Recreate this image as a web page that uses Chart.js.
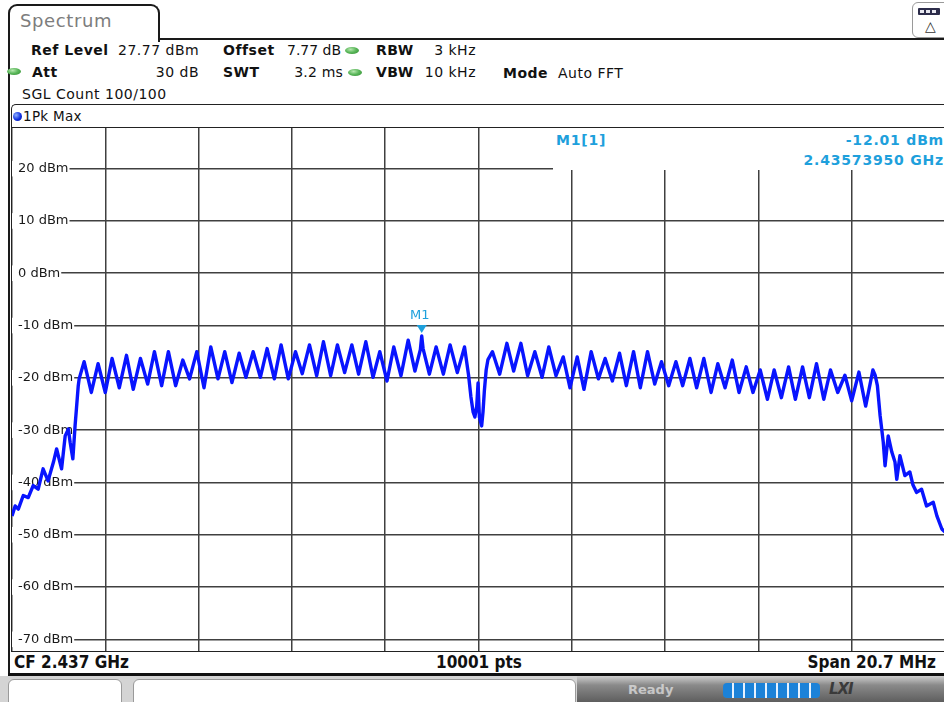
<!DOCTYPE html>
<html><head><meta charset="utf-8">
<script src="https://cdn.jsdelivr.net/npm/chart.js@4/dist/chart.umd.min.js"></script>
<style>
html,body{margin:0;padding:0;width:944px;height:702px;overflow:hidden;background:#fff;font-family:"DejaVu Sans",sans-serif;color:#111;}
.a{position:absolute;white-space:nowrap;}
.t{font-size:14px;letter-spacing:0.5px;line-height:16px;}
.b{font-weight:bold;}
.dot{position:absolute;width:14px;height:7px;border-radius:50%;background:radial-gradient(ellipse at 40% 35%,#b8e8b0 0%,#5cb85c 45%,#2e8b2e 100%);}
.blue{color:#1ea0dc;font-weight:bold;font-size:14px;letter-spacing:0.8px;line-height:16px;}
#plot{position:absolute;left:12px;top:128px;width:933px;height:523px;}
.sb{font-family:"DejaVu Sans Condensed","DejaVu Sans",sans-serif;font-weight:bold;font-size:17px;line-height:18px;}
</style>
</head><body>
<!-- tab -->
<div class="a" style="left:8px;top:4px;width:148px;height:36px;border:2px solid #1a1a1a;border-bottom:none;border-radius:9px 9px 0 0;"></div>
<div class="a" style="left:20px;top:10px;font-size:18px;color:#7d7d7d;letter-spacing:0.6px;">Spectrum</div>
<div class="a" style="left:158px;top:38px;width:786px;height:2px;background:#1a1a1a;"></div>
<div class="a" style="left:8px;top:38px;width:2px;height:638px;background:#1a1a1a;"></div>
<!-- right icon -->
<div class="a" style="left:912px;top:2px;width:40px;height:34px;border:1px solid #9a9a9a;border-radius:6px;background:#fff;"></div>
<div class="a" style="left:918px;top:8px;width:22px;height:7px;background:#2c2c4a;border-radius:1px;"></div>
<div class="a" style="left:920px;top:10px;width:4px;height:3px;background:#e8e8f0;"></div>
<div class="a" style="left:926px;top:10px;width:4px;height:3px;background:#e8e8f0;"></div>
<div class="a" style="left:932px;top:10px;width:4px;height:3px;background:#e8e8f0;"></div>
<div class="a" style="left:925px;top:18px;font-size:14px;color:#333;">△</div>

<!-- header rows -->
<div class="a t b" style="left:31px;top:42px;">Ref Level</div>
<div class="a t" style="left:118px;top:42px;">27.77 dBm</div>
<div class="a t b" style="left:223px;top:42px;">Offset</div>
<div class="a t" style="left:287px;top:42px;letter-spacing:0px;">7.77 dB</div>
<div class="dot" style="left:345px;top:47px;"></div>
<div class="a t b" style="left:376px;top:42px;">RBW</div>
<div class="a t" style="right:468px;top:42px;">3 kHz</div>

<div class="dot" style="left:7px;top:68px;"></div>
<div class="a t b" style="left:32px;top:64px;">Att</div>
<div class="a t" style="right:745px;top:64px;">30 dB</div>
<div class="a t b" style="left:223px;top:64px;">SWT</div>
<div class="a t" style="right:601px;top:64px;letter-spacing:0.2px;">3.2 ms</div>
<div class="dot" style="left:348px;top:69px;"></div>
<div class="a t b" style="left:376px;top:64px;">VBW</div>
<div class="a t" style="right:468px;top:64px;">10 kHz</div>
<div class="a t b" style="left:503px;top:65px;">Mode</div>
<div class="a t" style="left:558px;top:65px;">Auto FFT</div>

<div class="a t" style="left:22px;top:86px;">SGL Count 100/100</div>

<!-- 1Pk Max box -->
<div class="a" style="left:11px;top:104px;width:940px;height:40px;border-top:1px solid #222;border-left:1px solid #222;border-radius:5px 0 0 0;"></div>
<div class="a" style="left:13px;top:112px;width:9px;height:9px;border-radius:50%;background:radial-gradient(circle at 35% 35%,#8fb0ff 0%,#1030e0 55%,#0010a0 100%);"></div>
<div class="a" style="left:23px;top:108px;font-size:13.5px;letter-spacing:0.3px;">1Pk Max</div>
<div class="a" style="left:11px;top:127px;width:933px;height:1px;background:#222;"></div>

<div id="plot"><canvas id="c"></canvas></div>
<div class="a" style="left:11px;top:128px;width:1px;height:524px;background:#222;"></div>

<!-- marker info box -->
<div class="a" style="left:553px;top:128px;width:391px;height:42px;background:#fff;"></div>
<div class="a blue" style="left:556px;top:132px;">M1[1]</div>
<div class="a blue" style="right:0px;top:132px;">-12.01 dBm</div>
<div class="a blue" style="right:0px;top:152px;">2.43573950 GHz</div>

<!-- status bar -->
<div class="a" style="left:11px;top:651px;width:933px;height:1px;background:#222;"></div>
<div class="a sb" style="left:14px;top:653px;">CF 2.437 GHz</div>
<div class="a sb" style="left:436px;top:653px;">10001 pts</div>
<div class="a sb" style="right:8px;top:653px;">Span 20.7 MHz</div>
<div class="a" style="left:8px;top:673px;width:936px;height:3px;background:#111;"></div>

<!-- bottom bar -->
<div class="a" style="left:0;top:676px;width:944px;height:26px;background:#d4d4d4;"></div>
<div class="a" style="left:8px;top:679px;width:112px;height:30px;background:#fff;border:1px solid #9a9a9a;border-radius:6px 6px 0 0;"></div>
<div class="a" style="left:133px;top:679px;width:441px;height:30px;background:#fff;border:1px solid #9a9a9a;border-radius:6px 6px 0 0;"></div>
<div class="a" style="left:577px;top:676px;width:367px;height:26px;background:linear-gradient(to bottom,#cfcfcf 0%,#8a8a8a 35%,#5e5e5e 100%);"></div>
<div class="a" style="left:628px;top:682px;font-size:13px;color:#e8e8e8;font-weight:bold;opacity:0.7;">Ready</div>
<div class="a" style="left:723px;top:683px;width:97px;height:15px;border-radius:4px;background:repeating-linear-gradient(to right,#1c82d8 0px,#1c82d8 9px,#e6f2ff 9px,#e6f2ff 11px);"></div>
<div class="a" style="left:829px;top:680px;font-size:15px;font-weight:bold;font-style:italic;color:#3a3a3a;letter-spacing:-1px;">LXI</div>

<script>
// ---- axis definitions (MHz offset from CF 2437 MHz, dBm) ----
const CENTER_MHZ = 2437;
const X_MIN = -10.35, X_MAX = 10.35;
const X_GRID_MHZ = [-10.35, -8.28, -6.21, -4.14, -2.07, 0, 2.07, 4.14, 6.21, 8.28, 10.35];
const Y_MIN = -72.23, Y_MAX = 27.77;
const Y_TICKS = [20, 10, 0, -10, -20, -30, -40, -50, -60, -70];

// ---- trace (1Pk Max) ----
const SKIRT_LOW_MHZ = [-10.35,-10.28,-10.21,-10.10,-9.99,-9.88,-9.77,-9.66,-9.55,-9.43,-9.36,-9.25,-9.17,-9.10,-9.06,-9.00,-8.95,-8.92,-8.88,-8.86];
const SKIRT_LOW_DBM = [-46.4,-44.5,-45.1,-42.5,-42.9,-40.6,-41.3,-37.4,-39.7,-36.1,-33.6,-37.4,-31.1,-29.8,-32.3,-35.5,-29.1,-25.9,-21.5,-20.2];

const LOWER_BAND_MHZ = [-8.75,-8.59,-8.44,-8.28,-8.13,-7.97,-7.81,-7.66,-7.50,-7.34,-7.19,-7.03,-6.88,-6.72,-6.56,-6.41,-6.25,-6.09,-5.94,-5.78,-5.63,-5.47,-5.31,-5.16,-5.00,-4.84,-4.69,-4.53,-4.38,-4.22,-4.06,-3.91,-3.75,-3.59,-3.44,-3.28,-3.13,-2.97,-2.81,-2.66,-2.50,-2.34,-2.19,-2.03,-1.88,-1.72,-1.56,-1.41,-1.29,-1.26,-1.23,-1.09,-0.94,-0.78,-0.63,-0.47,-0.31];
const LOWER_BAND_DBM = [-16.9,-22.8,-17.3,-22.8,-16.3,-21.9,-15.7,-22.2,-16.3,-21.2,-15.0,-21.5,-15.0,-21.5,-16.6,-20.2,-15.0,-21.9,-14.1,-20.2,-15.0,-20.9,-15.3,-19.9,-15.0,-19.9,-14.4,-20.2,-13.7,-20.2,-15.0,-19.2,-13.7,-19.6,-13.1,-19.6,-13.7,-19.0,-13.7,-19.3,-13.1,-19.9,-15.0,-20.6,-14.1,-19.6,-12.8,-18.7,-14.6,-12.01,-14.4,-19.3,-14.1,-19.3,-13.7,-19.0,-14.1];

const DC_NOTCH_MHZ = [-0.22,-0.17,-0.12,-0.08,-0.04,-0.01,0.02,0.07,0.10,0.13,0.17,0.21];
const DC_NOTCH_DBM = [-19.5,-23.5,-26.5,-27.5,-25.5,-21.0,-27.5,-29.2,-26.5,-22.5,-18.5,-16.5];

const UPPER_BAND_MHZ = [0.31,0.47,0.63,0.78,0.94,1.09,1.25,1.41,1.56,1.72,1.88,2.03,2.19,2.34,2.50,2.66,2.81,2.97,3.13,3.28,3.44,3.59,3.75,3.91,4.06,4.22,4.38,4.53,4.69,4.84,5.00,5.16,5.31,5.47,5.63,5.78,5.94,6.09,6.25,6.41,6.56,6.72,6.88,7.03,7.19,7.34,7.50,7.66,7.81,7.97,8.13,8.28,8.44,8.59,8.75];
const UPPER_BAND_DBM = [-15.0,-19.3,-13.4,-18.7,-13.4,-19.6,-15.0,-19.9,-14.1,-19.6,-16.0,-21.9,-16.0,-22.2,-15.0,-20.2,-16.3,-20.6,-15.3,-21.5,-15.0,-21.9,-15.0,-21.2,-16.9,-21.5,-16.9,-21.5,-16.3,-21.9,-16.3,-22.8,-17.3,-21.9,-16.6,-22.8,-17.9,-22.8,-18.5,-24.1,-18.5,-23.8,-17.9,-24.1,-17.9,-23.8,-17.3,-24.1,-18.5,-22.8,-19.5,-24.4,-18.9,-25.4,-18.5];

const SKIRT_HIGH_MHZ = [8.80,8.85,8.91,8.98,9.02,9.09,9.17,9.24,9.28,9.35,9.46,9.57,9.64,9.72,9.83,9.94,10.09,10.17,10.28,10.35];
const SKIRT_HIGH_DBM = [-19.5,-21.5,-27.2,-32.3,-36.8,-31.1,-34.2,-36.1,-39.4,-34.9,-38.7,-38.0,-40.5,-41.9,-41.3,-44.5,-43.8,-46.4,-48.9,-49.5];

// ---- marker M1 ----
const MARKER_LABEL = 'M1';
const MARKER_MHZ = [-1.2605];
const MARKER_DBM = [-12.01];

const FREQ = [].concat(SKIRT_LOW_MHZ, LOWER_BAND_MHZ, DC_NOTCH_MHZ, UPPER_BAND_MHZ, SKIRT_HIGH_MHZ);
const LEVEL = [].concat(SKIRT_LOW_DBM, LOWER_BAND_DBM, DC_NOTCH_DBM, UPPER_BAND_DBM, SKIRT_HIGH_DBM);
const tracePts = FREQ.map((f, i) => ({x: f, y: LEVEL[i]}));

const markerPlugin = {
  id: 'marker',
  afterDatasetsDraw(chart) {
    const {ctx, scales: {x, y}} = chart;
    const px = x.getPixelForValue(MARKER_MHZ[0]);
    const py = y.getPixelForValue(MARKER_DBM[0]);
    ctx.save();
    ctx.fillStyle = '#1ea0dc';
    ctx.beginPath();
    ctx.moveTo(px - 5, py - 11);
    ctx.lineTo(px + 5, py - 11);
    ctx.lineTo(px, py - 3);
    ctx.closePath();
    ctx.fill();
    ctx.font = '13px "DejaVu Sans"';
    ctx.textAlign = 'center';
    ctx.textBaseline = 'middle';
    ctx.fillText(MARKER_LABEL, px - 2, py - 20);
    ctx.restore();
  }
};

function zeroFit(s) {
  if (s.isHorizontal()) { s.height = 0; } else { s.width = 0; }
  s.paddingTop = 0; s.paddingBottom = 0; s.paddingLeft = 0; s.paddingRight = 0;
}

new Chart(document.getElementById('c'), {
  type: 'line',
  data: {
    datasets: [{
      data: tracePts,
      borderColor: '#0814ff',
      borderWidth: 3.4,
      borderJoinStyle: 'round',
      pointRadius: 0,
      tension: 0,
      fill: false
    }]
  },
  options: {
    animation: false,
    responsive: true,
    maintainAspectRatio: false,
    layout: {padding: 0},
    plugins: {legend: {display: false}, tooltip: {enabled: false}},
    scales: {
      x: {
        type: 'linear', min: X_MIN, max: X_MAX,
        afterBuildTicks: s => { s.ticks = X_GRID_MHZ.map(v => ({value: v})); },
        afterFit: zeroFit,
        ticks: {display: false},
        grid: {color: '#404040', lineWidth: 1.5, drawTicks: false},
        border: {display: false}
      },
      y: {
        type: 'linear', min: Y_MIN, max: Y_MAX,
        afterBuildTicks: s => { s.ticks = Y_TICKS.map(v => ({value: v})); },
        afterFit: zeroFit,
        ticks: {
          mirror: true, padding: 6, autoSkip: false,
          callback: v => v + ' dBm',
          font: {family: 'DejaVu Sans', size: 13},
          color: '#1a1a1a',
          showLabelBackdrop: true, backdropColor: '#ffffff',
          backdropPadding: {left: 8, right: 1, top: 0, bottom: 0}
        },
        grid: {color: '#404040', lineWidth: 1.5, drawTicks: false},
        border: {display: false}
      }
    }
  },
  plugins: [markerPlugin]
});
</script>
</body></html>
